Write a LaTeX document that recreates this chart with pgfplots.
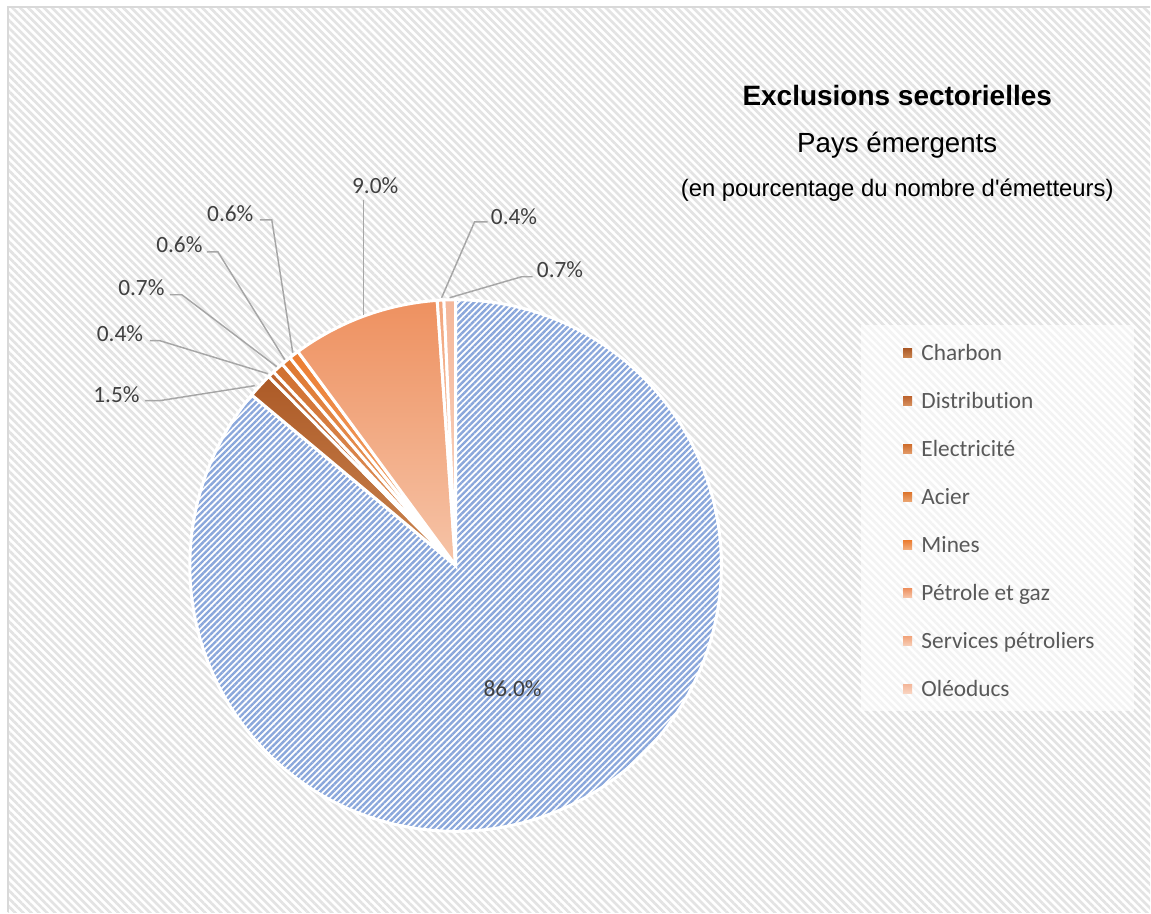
\documentclass[border=0pt]{standalone}
\usepackage{pgfplots}
\pgfplotsset{compat=1.18}
\usetikzlibrary{patterns.meta}
\usepackage{fontspec}
\setmainfont{Liberation Sans}[Ligatures=TeXOff]
\newfontfamily\calfont{Carlito}[Ligatures={NoCommon}]

\definecolor{bgline}{HTML}{E3E3E3}
\definecolor{framec}{HTML}{D9D9D9}
\definecolor{pieblue}{HTML}{8AA7DB}
\definecolor{leader}{HTML}{A6A6A6}
\definecolor{lbl}{HTML}{404040}
\definecolor{leg}{HTML}{595959}
\definecolor{charbonT}{HTML}{AC5A27}\definecolor{charbonB}{HTML}{CB8550}
\definecolor{distribT}{HTML}{BE6530}\definecolor{distribB}{HTML}{D8915F}
\definecolor{elecT}{HTML}{D06F2E}\definecolor{elecB}{HTML}{E39C6A}
\definecolor{acierT}{HTML}{DE772F}\definecolor{acierB}{HTML}{EBA673}
\definecolor{minesT}{HTML}{EC7D31}\definecolor{minesB}{HTML}{F2AE7E}
\definecolor{petroleT}{HTML}{EE9160}\definecolor{petroleB}{HTML}{F6C4A8}
\definecolor{servicesT}{HTML}{F2A57C}\definecolor{servicesB}{HTML}{F7CDB6}
\definecolor{oleoT}{HTML}{F4B79A}\definecolor{oleoB}{HTML}{F9D5C2}

\def\hatchname{hatch}
\newcommand\pieslice[3]{%
  \def\tmpname{#3}%
  \ifx\tmpname\hatchname
    \fill[white] (axis cs:456,347) -- ++(#1:199.5pt) arc[start angle=#1, end angle=#2, radius=199.5pt] -- cycle;
    \path[pattern={Lines[angle=45,distance=3.3pt,line width=1.8pt]}, pattern color=pieblue, draw=white, line width=2.25pt]
      (axis cs:456,347) -- ++(#1:199.5pt) arc[start angle=#1, end angle=#2, radius=199.5pt] -- cycle;
  \else
    \shadedraw[top color=#3T, bottom color=#3B, draw=white, line width=2.25pt]
      (axis cs:456,347) -- ++(#1:199.5pt) arc[start angle=#1, end angle=#2, radius=199.5pt] -- cycle;
  \fi}

\begin{document}
\begin{tikzpicture}
\begin{axis}[width=863.25pt,height=684.75pt,scale only axis,
  xmin=0,xmax=1151,ymin=0,ymax=913,hide axis,clip=false]
% background
\fill[white] (axis cs:0,0) rectangle (axis cs:1151,913);
\fill[pattern={Lines[angle=-45,distance=4.2pt,line width=2pt]}, pattern color=bgline]
  (axis cs:8,0) rectangle (axis cs:1151,906);
\draw[framec, line width=1.5pt] (axis cs:8,0) -- (axis cs:8,906) -- (axis cs:1151,906);

% pie from data
\xdef\piesum{0}
\foreach \v/\c in {86.0/hatch, 1.5/charbon, 0.4/distrib, 0.7/elec, 0.6/acier, 0.6/mines, 9.0/petrole, 0.4/services, 0.7/oleo}{%
  \pgfmathsetmacro\s{\piesum+\v}\xdef\piesum{\s}}
\xdef\cumangle{90}
\foreach \v/\c in {86.0/hatch, 1.5/charbon, 0.4/distrib, 0.7/elec, 0.6/acier, 0.6/mines, 9.0/petrole, 0.4/services, 0.7/oleo}{%
  \pgfmathsetmacro\endangle{\cumangle-\v/\piesum*360}%
  \edef\doslice{\noexpand\pieslice{\cumangle}{\endangle}{\c}}%
  \doslice
  \xdef\cumangle{\endangle}}

% leader lines
\draw[leader, line width=1.1pt] (axis cs:145,512) -- (axis cs:160,512) -- (axis cs:255,527);
\draw[leader, line width=1.1pt] (axis cs:150,572) -- (axis cs:160,572) -- (axis cs:268,539);
\draw[leader, line width=1.1pt] (axis cs:170,618) -- (axis cs:182,618) -- (axis cs:277,546);
\draw[leader, line width=1.1pt] (axis cs:207,661) -- (axis cs:218,661) -- (axis cs:285,553);
\draw[leader, line width=1.1pt] (axis cs:260,693) -- (axis cs:272,693) -- (axis cs:293,560);
\draw[leader, line width=1.1pt] (axis cs:364,713) -- (axis cs:364,598);
\draw[leader, line width=1.1pt] (axis cs:488,691) -- (axis cs:475,691) -- (axis cs:442,615);
\draw[leader, line width=1.1pt] (axis cs:533,636) -- (axis cs:522,636) -- (axis cs:450,615);

% data labels
\tikzset{lab/.style={font=\calfont\fontsize{17.5}{20}\selectfont, text=lbl, inner sep=0pt}}
\node[lab] at (axis cs:116.5,518) {1.5\%};
\node[lab] at (axis cs:120,579.5) {0.4\%};
\node[lab] at (axis cs:141.5,625) {0.7\%};
\node[lab] at (axis cs:179.5,668) {0.6\%};
\node[lab] at (axis cs:230.5,699.5) {0.6\%};
\node[lab] at (axis cs:375.5,727) {9.0\%};
\node[lab] at (axis cs:514.5,696.5) {0.4\%};
\node[lab] at (axis cs:560.5,643.5) {0.7\%};
\node[lab] at (axis cs:513,224) {86.0\%};

% titles
\node[anchor=base, font=\bfseries\fontsize{21}{25}\selectfont] at (axis cs:898,807) {Exclusions sectorielles};
\node[anchor=base, font=\fontsize{20.8}{25}\selectfont] at (axis cs:898,760) {Pays émergents};
\node[anchor=base, font=\fontsize{17.9}{22}\selectfont] at (axis cs:898,716) {(en pourcentage du nombre d'émetteurs)};

% legend
\fill[white, opacity=0.6] (axis cs:862,201) rectangle (axis cs:1135,588);
\tikzset{legt/.style={anchor=base west, font=\calfont\fontsize{17.5}{21}\selectfont, text=leg, inner sep=0pt}}
\shade[top color=charbonT, bottom color=charbonB] (axis cs:904,555) rectangle (axis cs:913,564);
\node[legt] at (axis cs:922,552) {Charbon};
\shade[top color=distribT, bottom color=distribB] (axis cs:904,507) rectangle (axis cs:913,516);
\node[legt] at (axis cs:922,504) {Distribution};
\shade[top color=elecT, bottom color=elecB] (axis cs:904,459) rectangle (axis cs:913,468);
\node[legt] at (axis cs:922,456) {Electricité};
\shade[top color=acierT, bottom color=acierB] (axis cs:904,411) rectangle (axis cs:913,420);
\node[legt] at (axis cs:922,408) {Acier};
\shade[top color=minesT, bottom color=minesB] (axis cs:904,363) rectangle (axis cs:913,372);
\node[legt] at (axis cs:922,360) {Mines};
\shade[top color=petroleT, bottom color=petroleB] (axis cs:904,315) rectangle (axis cs:913,324);
\node[legt] at (axis cs:922,312) {Pétrole et gaz};
\shade[top color=servicesT, bottom color=servicesB] (axis cs:904,267) rectangle (axis cs:913,276);
\node[legt] at (axis cs:922,264) {Services pétroliers};
\shade[top color=oleoT, bottom color=oleoB] (axis cs:904,219) rectangle (axis cs:913,228);
\node[legt] at (axis cs:922,216) {Oléoducs};
\end{axis}
\end{tikzpicture}
\end{document}
